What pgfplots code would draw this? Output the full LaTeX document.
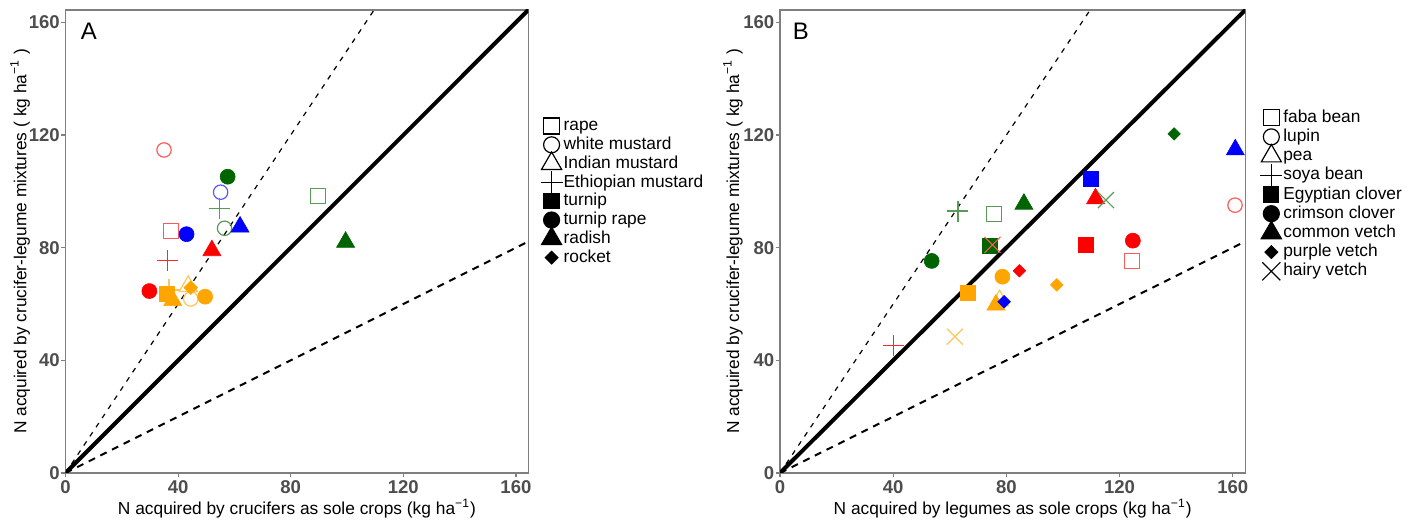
\documentclass[border=0pt]{standalone}
\usepackage{fontspec}
\setmainfont{Liberation Sans}
\usepackage{pgfplots}
\pgfplotsset{compat=1.18}
\definecolor{cR}{HTML}{FF0000}
\definecolor{cG}{HTML}{006400}
\definecolor{cB}{HTML}{0000FF}
\definecolor{cO}{HTML}{FFA500}
\definecolor{axgray}{HTML}{7F7F7F}
\definecolor{tickgray}{HTML}{4D4D4D}
\pgfplotsset{
  panel/.style={
    scale only axis, height=231.5bp,
    xmin=0, xmax=164.4, ymin=0, ymax=164.4,
    xtick={0,40,80,120,160}, ytick={0,40,80,120,160},
    axis line style={axgray, line width=0.6bp},
    tick style={axgray, line width=0.6bp},
    tick align=outside, major tick length=2bp, tick pos=left,
    ticklabel style={font=\bfseries\fontsize{9.3}{9.3}\selectfont, text=tickgray},
    xticklabel style={inner sep=1.5bp},
    yticklabel style={inner sep=0.7bp},
    /pgf/number format/assume math mode=true,
    label style={font=\fontsize{8.7}{9}\selectfont},
    legend cell align=left,
    legend image code/.code={\path[draw=none,fill=none] (0bp,-2bp) rectangle (10.5bp,2bp); \draw[overlay,#1] plot coordinates {(4.5bp,0bp)};},
  },
  hol/.style={only marks, line width=0.6bp, forget plot},
  fil/.style={only marks, line width=0.3bp, forget plot},
  lg/.style={only marks, black, line width=0.6bp},
}
\begin{document}
\begin{tikzpicture}
\useasboundingbox (0,0) rectangle (709bp,261bp);
% ---------------- Panel A ----------------
\begin{axis}[panel, at={(32.75bp,24.5bp)}, anchor=south west, width=231.4bp,
  xlabel={N acquired by crucifers as sole crops (kg ha\textsuperscript{−1})},
  ylabel={N acquired by crucifer-legume mixtures ( kg ha\textsuperscript{−1} )},
  xlabel style={at={(axis description cs:0.5,-0.0767)}, anchor=center},
  ylabel style={at={(axis description cs:-0.098,0.5)}, anchor=center},
  legend style={draw=none, fill=none, at={(axis description cs:1.03,0.768)}, anchor=north west,
    font=\fontsize{8.7}{9}\selectfont, inner sep=0pt, row sep=1.2bp,
    nodes={inner sep=0pt, text height=6.4bp, text depth=1.8bp}},
]
\addplot[black, line width=2bp, forget plot] coordinates {(0,0) (165,165)};
\addplot[black, line width=0.6bp, dash pattern=on 2.5bp off 3bp, forget plot] coordinates {(0,0) (110,165)};
\addplot[black, line width=1bp, dash pattern=on 3.5bp off 3bp, forget plot] coordinates {(0,0) (165,82.5)};
% rape (open square)
\addplot[hol, mark=square, mark size=3.75bp, color=cR!65!white] coordinates {(37.4,85.9)};
\addplot[hol, mark=square, mark size=3.75bp, color=cG!65!white] coordinates {(89.6,98.4)};
% white mustard (open circle)
\addplot[hol, mark=o, mark size=3.6bp, color=cR!65!white] coordinates {(35.0,114.7)};
\addplot[hol, mark=o, mark size=3.6bp, color=cB!65!white] coordinates {(55.1,99.7)};
\addplot[hol, mark=o, mark size=3.6bp, color=cG!65!white] coordinates {(56.5,86.9)};
\addplot[hol, mark=o, mark size=3.6bp, color=cO!65!white] coordinates {(44.5,61.8)};
% Indian mustard (open triangle)
\addplot[hol, mark=triangle, mark size=5.2bp, color=cO!65!white] coordinates {(43.6,66.3)};
% Ethiopian mustard (plus)
\addplot[hol, mark=+, mark size=5.25bp, color=cG!65!white] coordinates {(54.6,94.0)};
\addplot[hol, mark=+, mark size=5.25bp, color=cR!85!white] coordinates {(36.2,75.5)};
\addplot[hol, mark=+, mark size=5.25bp, color=cO!65!white] coordinates {(36.8,65.0)};
% turnip (filled square)
\addplot[fil, mark=square*, mark size=3.75bp, color=cO] coordinates {(35.9,63.8)};
% turnip rape (filled circle)
\addplot[fil, mark=*, mark size=3.75bp, color=cG] coordinates {(57.6,105.2)};
\addplot[fil, mark=*, mark size=3.75bp, color=cB] coordinates {(43.0,84.8)};
\addplot[fil, mark=*, mark size=3.75bp, color=cR] coordinates {(29.8,64.6)};
\addplot[fil, mark=*, mark size=3.75bp, color=cO] coordinates {(49.6,62.6)};
% radish (filled triangle)
\addplot[fil, mark=triangle*, mark size=5.2bp, color=cB] coordinates {(62.0,87.4)};
\addplot[fil, mark=triangle*, mark size=5.2bp, color=cR] coordinates {(52.0,79.0)};
\addplot[fil, mark=triangle*, mark size=5.2bp, color=cO] coordinates {(38.1,61.3)};
\addplot[fil, mark=triangle*, mark size=5.2bp, color=cG] coordinates {(99.5,82.0)};
% rocket (filled diamond)
\addplot[fil, mark=square*, mark options={rotate=45}, mark size=2.4bp, color=cO] coordinates {(44.5,65.8)};
% legend
\addlegendimage{lg, mark=square, mark size=4bp}\addlegendentry{rape}
\addlegendimage{lg, mark=o, mark size=4bp}\addlegendentry{white mustard}
\addlegendimage{lg, mark=triangle, mark size=5.8bp}\addlegendentry{Indian mustard}
\addlegendimage{lg, mark=+, mark size=5.5bp}\addlegendentry{Ethiopian mustard}
\addlegendimage{lg, mark=square*, mark size=3.75bp}\addlegendentry{turnip}
\addlegendimage{lg, mark=*, mark size=4bp}\addlegendentry{turnip rape}
\addlegendimage{lg, mark=triangle*, mark size=5.8bp}\addlegendentry{radish}
\addlegendimage{lg, mark=square*, mark options={rotate=45}, mark size=2.2bp}\addlegendentry{rocket}
\node[font=\fontsize{12}{12}\selectfont] at (rel axis cs:0.0505,0.953) {A};
\end{axis}
% ---------------- Panel B ----------------
\begin{axis}[panel, at={(390bp,24.5bp)}, anchor=south west, width=232.6bp,
  xlabel={N acquired by legumes as sole crops (kg ha\textsuperscript{−1})},
  ylabel={N acquired by crucifer-legume mixtures ( kg ha\textsuperscript{−1} )},
  xlabel style={at={(axis description cs:0.5,-0.0767)}, anchor=center},
  ylabel style={at={(axis description cs:-0.101,0.5)}, anchor=center},
  legend style={draw=none, fill=none, at={(axis description cs:1.036,0.786)}, anchor=north west,
    font=\fontsize{8.7}{9}\selectfont, inner sep=0pt, row sep=1.4bp,
    nodes={inner sep=0pt, text height=6.4bp, text depth=1.8bp}},
]
\addplot[black, line width=2bp, forget plot] coordinates {(0,0) (165,165)};
\addplot[black, line width=0.6bp, dash pattern=on 2.5bp off 3bp, forget plot] coordinates {(0,0) (110,165)};
\addplot[black, line width=1bp, dash pattern=on 3.5bp off 3bp, forget plot] coordinates {(0,0) (165,82.5)};
% faba bean (open square)
\addplot[hol, mark=square, mark size=3.75bp, color=cG!65!white] coordinates {(75.6,92.1)};
\addplot[hol, mark=square, mark size=3.75bp, color=cR!65!white] coordinates {(124.4,75.2)};
% lupin (open circle)
\addplot[hol, mark=o, mark size=3.6bp, color=cR!65!white] coordinates {(160.8,95.1)};
% pea (open triangle)
\addplot[hol, mark=triangle, mark size=5.2bp, color=cO!65!white] coordinates {(77.6,61.2)};
% soya bean (plus)
\addplot[hol, mark=+, mark size=5.25bp, color=cG!65!white] coordinates {(62.9,93.0)};
\addplot[hol, mark=+, mark size=5.25bp, color=cR!85!white] coordinates {(40.0,45.2)};
% Egyptian clover (filled square)
\addplot[fil, mark=square*, mark size=3.75bp, color=cG] coordinates {(74.0,80.5)};
\addplot[fil, mark=square*, mark size=3.75bp, color=cO] coordinates {(66.5,64.0)};
\addplot[fil, mark=square*, mark size=3.75bp, color=cB] coordinates {(109.8,104.5)};
\addplot[fil, mark=square*, mark size=3.75bp, color=cR] coordinates {(108.2,81.2)};
% crimson clover (filled circle)
\addplot[fil, mark=*, mark size=3.75bp, color=cG] coordinates {(53.6,75.3)};
\addplot[fil, mark=*, mark size=3.75bp, color=cO] coordinates {(78.6,69.7)};
\addplot[fil, mark=*, mark size=3.75bp, color=cR] coordinates {(124.7,82.5)};
% common vetch (filled triangle)
\addplot[fil, mark=triangle*, mark size=5.2bp, color=cG] coordinates {(86.2,95.5)};
\addplot[fil, mark=triangle*, mark size=5.2bp, color=cO] coordinates {(76.3,59.7)};
\addplot[fil, mark=triangle*, mark size=5.2bp, color=cB] coordinates {(160.9,114.8)};
\addplot[fil, mark=triangle*, mark size=5.2bp, color=cR] coordinates {(111.5,97.4)};
% purple vetch (filled diamond)
\addplot[fil, mark=square*, mark options={rotate=45}, mark size=2.2bp, color=cR] coordinates {(84.6,71.8)};
\addplot[fil, mark=square*, mark options={rotate=45}, mark size=2.2bp, color=cO] coordinates {(97.8,66.8)};
\addplot[fil, mark=square*, mark options={rotate=45}, mark size=2.2bp, color=cB] coordinates {(79.2,60.8)};
\addplot[fil, mark=square*, mark options={rotate=45}, mark size=2.2bp, color=cG] coordinates {(139.3,120.4)};
% hairy vetch (x)
\addplot[hol, mark=x, mark size=5.66bp, color=cR!65!white] coordinates {(75.1,81.0)};
\addplot[hol, mark=x, mark size=5.66bp, color=cO!65!white] coordinates {(61.8,48.4)};
\addplot[hol, mark=x, mark size=5.66bp, color=cG!65!white] coordinates {(115.2,96.9)};
% legend
\addlegendimage{lg, mark=square, mark size=4bp}\addlegendentry{faba bean}
\addlegendimage{lg, mark=o, mark size=4bp}\addlegendentry{lupin}
\addlegendimage{lg, mark=triangle, mark size=5.8bp}\addlegendentry{pea}
\addlegendimage{lg, mark=+, mark size=5.5bp}\addlegendentry{soya bean}
\addlegendimage{lg, mark=square*, mark size=3.75bp}\addlegendentry{Egyptian clover}
\addlegendimage{lg, mark=*, mark size=4bp}\addlegendentry{crimson clover}
\addlegendimage{lg, mark=triangle*, mark size=5.8bp}\addlegendentry{common vetch}
\addlegendimage{lg, mark=square*, mark options={rotate=45}, mark size=2.2bp}\addlegendentry{purple vetch}
\addlegendimage{lg, mark=x, mark size=6.4bp}\addlegendentry{hairy vetch}
\node[font=\fontsize{12}{12}\selectfont] at (rel axis cs:0.045,0.953) {B};
\end{axis}
\end{tikzpicture}
\end{document}
